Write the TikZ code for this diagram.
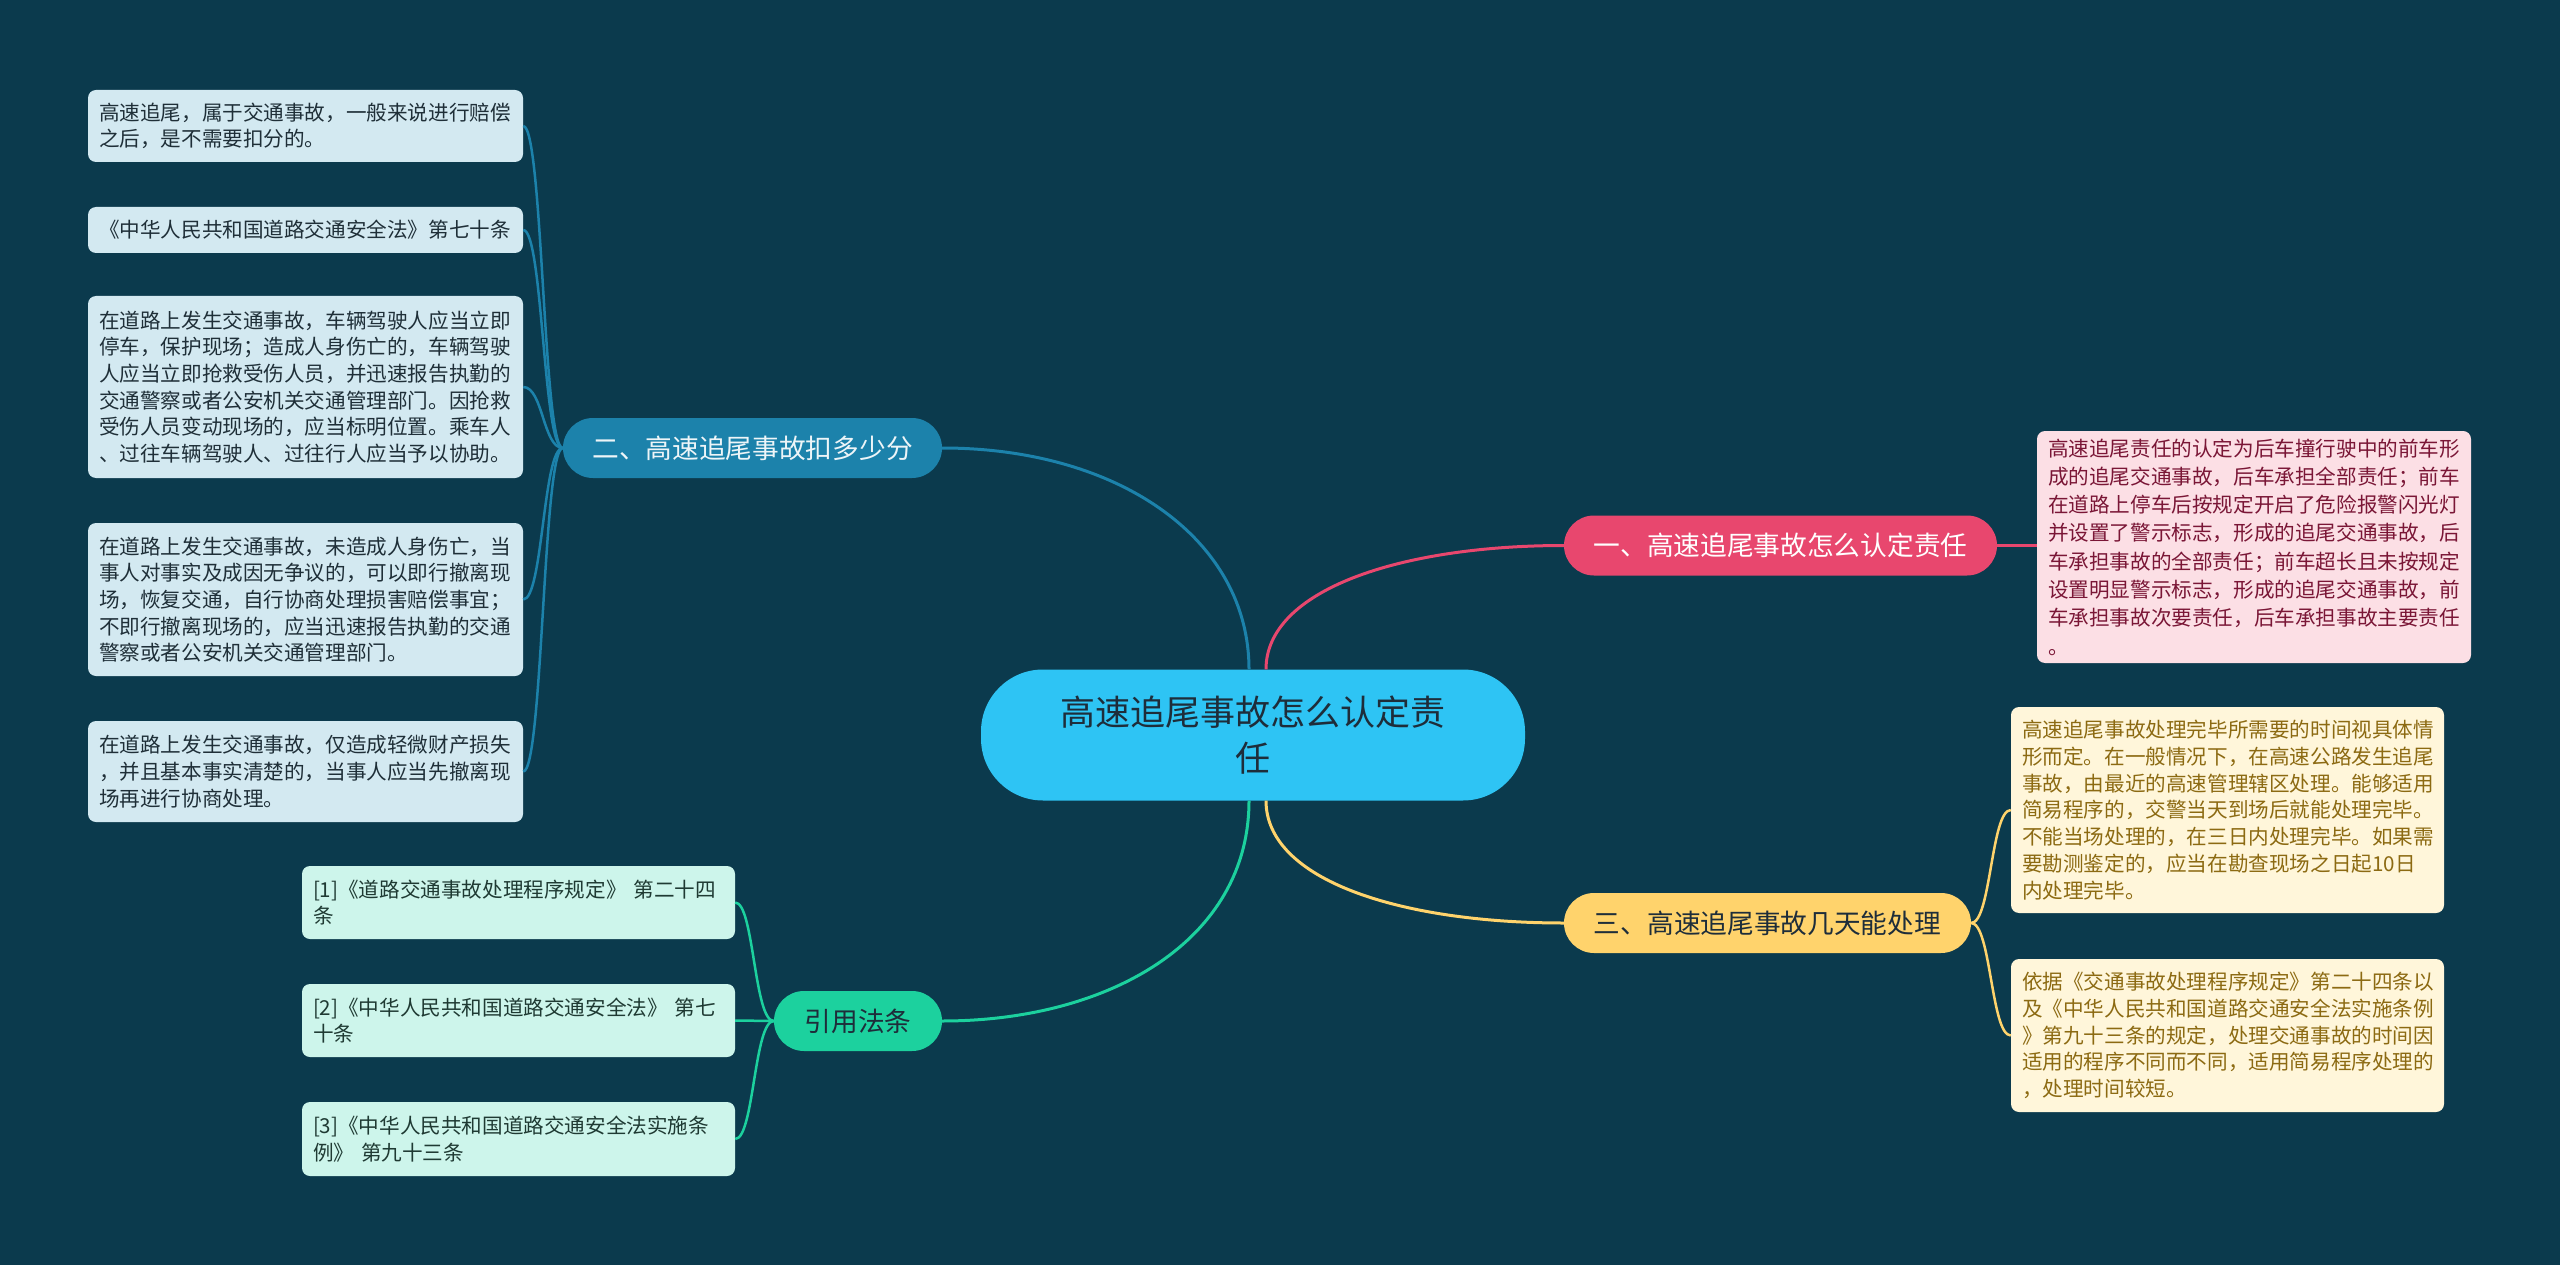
\documentclass[tikz,border=0pt]{standalone}
\usepackage{fontspec}
\setmainfont{Noto Sans CJK SC}
\definecolor{bg}{HTML}{0B3A4D}
\definecolor{cfill}{HTML}{2EC4F4}
\definecolor{ctext}{HTML}{1E2D3A}
\definecolor{pinkb}{HTML}{E8476E}
\definecolor{blueb}{HTML}{1C82AB}
\definecolor{yellowb}{HTML}{FFD36C}
\definecolor{greenb}{HTML}{1CD19E}
\definecolor{leafblue}{HTML}{D3E9F1}
\definecolor{leafbluet}{HTML}{1F2F38}
\definecolor{leafpink}{HTML}{FCDFE5}
\definecolor{leafpinkt}{HTML}{7A1636}
\definecolor{leafyel}{HTML}{FFF6DA}
\definecolor{leafyelt}{HTML}{8C6A12}
\definecolor{leafgreen}{HTML}{CDF5EB}
\definecolor{leafgreent}{HTML}{1F3A33}
\begin{document}
\begin{tikzpicture}[x=1pt,y=-1pt,
  leaf/.style={rounded corners=8pt, inner xsep=11pt, inner ysep=0pt, align=left,
     font=\fontsize{20.6}{26.7}\selectfont, anchor=center},
  lb/.style={leaf, fill=leafblue, text=leafbluet, text width=413pt},
  lp/.style={leaf, fill=leafpink, text=leafpinkt, text width=412pt, font=\fontsize{20.6}{28.3}\selectfont},
  ly/.style={leaf, fill=leafyel, text=leafyelt, text width=411pt},
  lg/.style={leaf, fill=leafgreen, text=leafgreent, text width=411pt},
  branch/.style={rounded corners=30pt, inner sep=0pt, minimum height=60pt, align=center,
     font=\fontsize{26.7}{32}\selectfont, anchor=center},
  mainline/.style={line width=3pt},
  leafline/.style={line width=2.5pt}
]
\fill[bg] (0,0) rectangle (2560,1265);
\useasboundingbox (0,0) rectangle (2560,1265);

% central
\node[fill=cfill, text=ctext, rounded corners=62pt, minimum width=544pt, minimum height=131pt,
  inner sep=0pt, align=center, font=\fontsize{35}{45.7}\selectfont] (c) at (1253,735)
  {高速追尾事故怎么认定责\\任};

% branches
\node[branch, fill=pinkb, text=white, minimum width=433pt] (b1) at (1780.5,545.5) {一、高速追尾事故怎么认定责任};
\node[branch, fill=blueb, text=white!92!blueb, minimum width=379pt] (b2) at (752.5,448) {二、高速追尾事故扣多少分};
\node[branch, fill=yellowb, text=ctext, minimum width=407pt] (b3) at (1767.5,923) {三、高速追尾事故几天能处理};
\node[branch, fill=greenb, text=ctext, minimum width=168pt] (b4) at (858,1021) {引用法条};

% main connectors
\draw[mainline, blueb] ([xshift=-4pt]c.north) .. controls ([xshift=-4pt]c.north |- 0,540) and (1120,448) .. (b2.east);
\draw[mainline, pinkb] ([xshift=13pt]c.north) .. controls ([xshift=13pt]c.north |- 0,590) and (1400,545.5) .. (b1.west);
\draw[mainline, yellowb] ([xshift=13pt]c.south) .. controls ([xshift=13pt]c.south |- 0,880) and (1400,923) .. (b3.west);
\draw[mainline, greenb] ([xshift=-4pt]c.south) .. controls ([xshift=-4pt]c.south |- 0,940) and (1110,1021) .. (b4.east);

% left leaves (branch 2)
\node[lb, minimum height=72pt] (l1) at (305.5,126) {高速追尾，属于交通事故，一般来说进行赔偿\\之后，是不需要扣分的。};
\node[lb, minimum height=46pt] (l2) at (305.5,230) {《中华人民共和国道路交通安全法》第七十条};
\node[lb, minimum height=182pt] (l3) at (305.5,387) {在道路上发生交通事故，车辆驾驶人应当立即\\停车，保护现场；造成人身伤亡的，车辆驾驶\\人应当立即抢救受伤人员，并迅速报告执勤的\\交通警察或者公安机关交通管理部门。因抢救\\受伤人员变动现场的，应当标明位置。乘车人\\、过往车辆驾驶人、过往行人应当予以协助。};
\node[lb, minimum height=153pt] (l4) at (305.5,599.5) {在道路上发生交通事故，未造成人身伤亡，当\\事人对事实及成因无争议的，可以即行撤离现\\场，恢复交通，自行协商处理损害赔偿事宜；\\不即行撤离现场的，应当迅速报告执勤的交通\\警察或者公安机关交通管理部门。};
\node[lb, minimum height=101pt] (l5) at (305.5,771.5) {在道路上发生交通事故，仅造成轻微财产损失\\，并且基本事实清楚的，当事人应当先撤离现\\场再进行协商处理。};

\foreach \n in {l1,l2,l3,l4,l5}
  \draw[leafline, blueb] (b2.west) .. controls (543,448) and (543,0 |- \n.east) .. (\n.east);

% right leaf (branch 1)
\node[lp, minimum height=232pt] (r1) at (2254,547) {高速追尾责任的认定为后车撞行驶中的前车形\\成的追尾交通事故，后车承担全部责任；前车\\在道路上停车后按规定开启了危险报警闪光灯\\并设置了警示标志，形成的追尾交通事故，后\\车承担事故的全部责任；前车超长且未按规定\\设置明显警示标志，形成的追尾交通事故，前\\车承担事故次要责任，后车承担事故主要责任\\。};
\draw[leafline, pinkb] (b1.east) -- (b1.east -| r1.west);

% yellow leaves (branch 3)
\node[ly, minimum height=206pt] (y1) at (2227.5,810) {高速追尾事故处理完毕所需要的时间视具体情\\形而定。在一般情况下，在高速公路发生追尾\\事故，由最近的高速管理辖区处理。能够适用\\简易程序的，交警当天到场后就能处理完毕。\\不能当场处理的，在三日内处理完毕。如果需\\要勘测鉴定的，应当在勘查现场之日起10日\\内处理完毕。};
\node[ly, minimum height=153pt] (y2) at (2227.5,1035.5) {依据《交通事故处理程序规定》第二十四条以\\及《中华人民共和国道路交通安全法实施条例\\》第九十三条的规定，处理交通事故的时间因\\适用的程序不同而不同，适用简易程序处理的\\，处理时间较短。};
\foreach \n in {y1,y2}
  \draw[leafline, yellowb] (b3.east) .. controls (1991,923) and (1991,0 |- \n.west) .. (\n.west);

% green leaves (branch 4)
\node[lg, minimum height=73pt] (g1) at (518.5,902.5) {[1]《道路交通事故处理程序规定》~第二十四\\条};
\node[lg, minimum height=73pt] (g2) at (518.5,1020.5) {[2]《中华人民共和国道路交通安全法》~第七\\十条};
\node[lg, minimum height=74pt] (g3) at (518.5,1139) {[3]《中华人民共和国道路交通安全法实施条\\例》~第九十三条};
\foreach \n in {g1,g2,g3}
  \draw[leafline, greenb] (b4.west) .. controls (754,1021) and (754,0 |- \n.east) .. (\n.east);
\end{tikzpicture}
\end{document}
